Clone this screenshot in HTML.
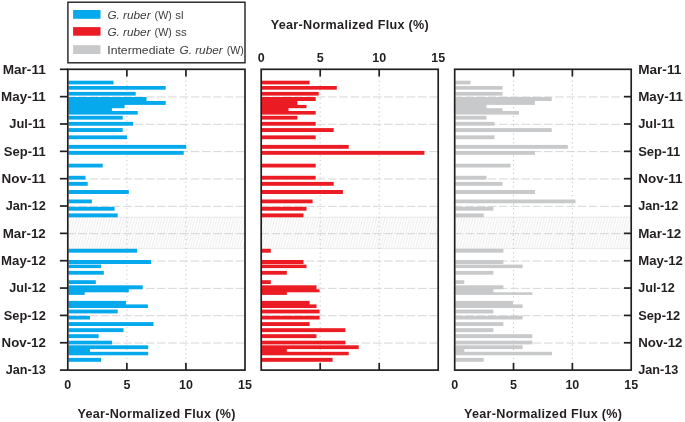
<!DOCTYPE html>
<html><head><meta charset="utf-8"><title>Year-Normalized Flux</title>
<style>html,body{margin:0;padding:0;background:#fff;}body{width:685px;height:422px;overflow:hidden;font-family:"Liberation Sans",sans-serif;}svg{display:block;}text{font-family:"Liberation Sans",sans-serif;}</style></head><body>
<svg width="685" height="422" viewBox="0 0 685 422">
<defs><pattern id="hatch" patternUnits="userSpaceOnUse" width="2.75" height="11.2" patternTransform="translate(0,217.2)"><path d="M-2.75 22.4 L2.75 0 M0 22.4 L5.5 0 M-5.5 22.4 L0 0" stroke="#d4d4d4" stroke-width="0.45" fill="none"/></pattern></defs>
<rect x="0" y="0" width="685" height="422" fill="#ffffff"/>
<rect x="68.65" y="217.2" width="175.50" height="31.20" fill="url(#hatch)"/>
<path d="M68.65 217.2 H244.15 M68.65 248.4 H244.15" stroke="#dcdcdc" stroke-width="0.6" fill="none"/>
<path d="M126.87 76.30 V363.10" stroke="#adadad" stroke-width="0.85" stroke-dasharray="1.0 3.4" fill="none"/>
<path d="M185.93 76.30 V363.10" stroke="#adadad" stroke-width="0.85" stroke-dasharray="1.0 3.4" fill="none"/>
<path d="M68.65 96.95 H244.15" stroke="#c8c8c8" stroke-width="0.75" stroke-dasharray="8.5 2.74" stroke-dashoffset="1.5" fill="none"/>
<path d="M68.65 124.29 H244.15" stroke="#c8c8c8" stroke-width="0.75" stroke-dasharray="8.5 2.74" stroke-dashoffset="1.5" fill="none"/>
<path d="M68.65 151.64 H244.15" stroke="#c8c8c8" stroke-width="0.75" stroke-dasharray="8.5 2.74" stroke-dashoffset="1.5" fill="none"/>
<path d="M68.65 178.98 H244.15" stroke="#c8c8c8" stroke-width="0.75" stroke-dasharray="8.5 2.74" stroke-dashoffset="1.5" fill="none"/>
<path d="M68.65 206.33 H244.15" stroke="#c8c8c8" stroke-width="0.75" stroke-dasharray="8.5 2.74" stroke-dashoffset="1.5" fill="none"/>
<path d="M68.65 233.67 H244.15" stroke="#c8c8c8" stroke-width="0.75" stroke-dasharray="8.5 2.74" stroke-dashoffset="1.5" fill="none"/>
<path d="M68.65 261.02 H244.15" stroke="#c8c8c8" stroke-width="0.75" stroke-dasharray="8.5 2.74" stroke-dashoffset="1.5" fill="none"/>
<path d="M68.65 288.36 H244.15" stroke="#c8c8c8" stroke-width="0.75" stroke-dasharray="8.5 2.74" stroke-dashoffset="1.5" fill="none"/>
<path d="M68.65 315.71 H244.15" stroke="#c8c8c8" stroke-width="0.75" stroke-dasharray="8.5 2.74" stroke-dashoffset="1.5" fill="none"/>
<path d="M68.65 343.05 H244.15" stroke="#c8c8c8" stroke-width="0.75" stroke-dasharray="8.5 2.74" stroke-dashoffset="1.5" fill="none"/>
<rect x="68.45" y="80.70" width="45.05" height="3.70" fill="#06aaec"/>
<rect x="68.45" y="86.00" width="97.25" height="3.70" fill="#06aaec"/>
<rect x="68.45" y="91.90" width="67.25" height="3.70" fill="#06aaec"/>
<rect x="68.45" y="97.00" width="78.05" height="5.00" fill="#06aaec"/>
<rect x="68.45" y="101.00" width="97.25" height="3.90" fill="#06aaec"/>
<rect x="68.45" y="103.90" width="56.15" height="4.30" fill="#06aaec"/>
<rect x="68.45" y="107.20" width="43.45" height="4.80" fill="#06aaec"/>
<rect x="68.45" y="111.00" width="69.25" height="3.60" fill="#06aaec"/>
<rect x="68.45" y="115.80" width="54.25" height="3.80" fill="#06aaec"/>
<rect x="68.45" y="121.90" width="64.75" height="3.80" fill="#06aaec"/>
<rect x="68.45" y="128.10" width="54.25" height="3.90" fill="#06aaec"/>
<rect x="68.45" y="135.40" width="58.45" height="3.80" fill="#06aaec"/>
<rect x="68.45" y="144.90" width="117.75" height="3.90" fill="#06aaec"/>
<rect x="68.45" y="150.90" width="115.25" height="3.90" fill="#06aaec"/>
<rect x="68.45" y="163.70" width="34.25" height="3.80" fill="#06aaec"/>
<rect x="68.45" y="175.80" width="17.05" height="3.80" fill="#06aaec"/>
<rect x="68.45" y="181.90" width="19.25" height="3.90" fill="#06aaec"/>
<rect x="68.45" y="190.00" width="60.35" height="4.00" fill="#06aaec"/>
<rect x="68.45" y="199.50" width="23.45" height="3.80" fill="#06aaec"/>
<rect x="68.45" y="206.80" width="46.15" height="3.90" fill="#06aaec"/>
<rect x="68.45" y="213.40" width="49.25" height="3.90" fill="#06aaec"/>
<rect x="68.45" y="248.80" width="68.65" height="3.90" fill="#06aaec"/>
<rect x="68.45" y="260.00" width="82.55" height="4.00" fill="#06aaec"/>
<rect x="68.45" y="264.60" width="32.55" height="3.50" fill="#06aaec"/>
<rect x="68.45" y="270.90" width="35.35" height="3.80" fill="#06aaec"/>
<rect x="68.45" y="280.20" width="27.35" height="3.80" fill="#06aaec"/>
<rect x="68.45" y="285.30" width="74.25" height="4.00" fill="#06aaec"/>
<rect x="68.45" y="288.30" width="60.35" height="4.00" fill="#06aaec"/>
<rect x="68.45" y="291.30" width="16.25" height="3.60" fill="#06aaec"/>
<rect x="68.45" y="300.90" width="57.55" height="4.50" fill="#06aaec"/>
<rect x="68.45" y="304.40" width="79.45" height="3.60" fill="#06aaec"/>
<rect x="68.45" y="309.60" width="49.25" height="3.80" fill="#06aaec"/>
<rect x="68.45" y="315.80" width="21.55" height="3.70" fill="#06aaec"/>
<rect x="68.45" y="322.10" width="85.05" height="3.90" fill="#06aaec"/>
<rect x="68.45" y="328.20" width="55.05" height="3.90" fill="#06aaec"/>
<rect x="68.45" y="334.20" width="30.15" height="3.90" fill="#06aaec"/>
<rect x="68.45" y="340.70" width="43.65" height="3.70" fill="#06aaec"/>
<rect x="68.45" y="345.30" width="79.75" height="3.80" fill="#06aaec"/>
<rect x="68.45" y="348.10" width="21.55" height="4.70" fill="#06aaec"/>
<rect x="68.45" y="351.80" width="79.75" height="3.50" fill="#06aaec"/>
<rect x="68.45" y="357.90" width="32.55" height="3.90" fill="#06aaec"/>
<rect x="67.80" y="69.30" width="177.20" height="300.80" fill="none" stroke="#231f20" stroke-width="1.7"/>
<path d="M126.87 69.30 v7.2 M126.87 370.10 v-7.2" stroke="#231f20" stroke-width="1.7" fill="none"/>
<path d="M185.93 69.30 v7.2 M185.93 370.10 v-7.2" stroke="#231f20" stroke-width="1.7" fill="none"/>
<rect x="262.05" y="217.2" width="175.30" height="31.20" fill="url(#hatch)"/>
<path d="M262.05 217.2 H437.35 M262.05 248.4 H437.35" stroke="#dcdcdc" stroke-width="0.6" fill="none"/>
<path d="M320.20 76.30 V363.10" stroke="#adadad" stroke-width="0.85" stroke-dasharray="1.0 3.4" fill="none"/>
<path d="M379.20 76.30 V363.10" stroke="#adadad" stroke-width="0.85" stroke-dasharray="1.0 3.4" fill="none"/>
<path d="M262.05 96.95 H437.35" stroke="#c8c8c8" stroke-width="0.75" stroke-dasharray="8.5 2.74" stroke-dashoffset="1.5" fill="none"/>
<path d="M262.05 124.29 H437.35" stroke="#c8c8c8" stroke-width="0.75" stroke-dasharray="8.5 2.74" stroke-dashoffset="1.5" fill="none"/>
<path d="M262.05 151.64 H437.35" stroke="#c8c8c8" stroke-width="0.75" stroke-dasharray="8.5 2.74" stroke-dashoffset="1.5" fill="none"/>
<path d="M262.05 178.98 H437.35" stroke="#c8c8c8" stroke-width="0.75" stroke-dasharray="8.5 2.74" stroke-dashoffset="1.5" fill="none"/>
<path d="M262.05 206.33 H437.35" stroke="#c8c8c8" stroke-width="0.75" stroke-dasharray="8.5 2.74" stroke-dashoffset="1.5" fill="none"/>
<path d="M262.05 233.67 H437.35" stroke="#c8c8c8" stroke-width="0.75" stroke-dasharray="8.5 2.74" stroke-dashoffset="1.5" fill="none"/>
<path d="M262.05 261.02 H437.35" stroke="#c8c8c8" stroke-width="0.75" stroke-dasharray="8.5 2.74" stroke-dashoffset="1.5" fill="none"/>
<path d="M262.05 288.36 H437.35" stroke="#c8c8c8" stroke-width="0.75" stroke-dasharray="8.5 2.74" stroke-dashoffset="1.5" fill="none"/>
<path d="M262.05 315.71 H437.35" stroke="#c8c8c8" stroke-width="0.75" stroke-dasharray="8.5 2.74" stroke-dashoffset="1.5" fill="none"/>
<path d="M262.05 343.05 H437.35" stroke="#c8c8c8" stroke-width="0.75" stroke-dasharray="8.5 2.74" stroke-dashoffset="1.5" fill="none"/>
<rect x="261.85" y="80.70" width="47.75" height="3.70" fill="#ec1c24"/>
<rect x="261.85" y="86.00" width="74.95" height="3.70" fill="#ec1c24"/>
<rect x="261.85" y="91.90" width="56.85" height="3.70" fill="#ec1c24"/>
<rect x="261.85" y="97.00" width="53.85" height="4.00" fill="#ec1c24"/>
<rect x="261.85" y="100.00" width="35.55" height="5.90" fill="#ec1c24"/>
<rect x="261.85" y="104.90" width="44.65" height="3.30" fill="#ec1c24"/>
<rect x="261.85" y="107.20" width="26.65" height="4.80" fill="#ec1c24"/>
<rect x="261.85" y="111.00" width="53.85" height="3.60" fill="#ec1c24"/>
<rect x="261.85" y="115.80" width="35.55" height="3.80" fill="#ec1c24"/>
<rect x="261.85" y="121.90" width="53.85" height="3.80" fill="#ec1c24"/>
<rect x="261.85" y="128.10" width="71.85" height="3.90" fill="#ec1c24"/>
<rect x="261.85" y="135.40" width="53.85" height="3.80" fill="#ec1c24"/>
<rect x="261.85" y="144.90" width="86.85" height="3.90" fill="#ec1c24"/>
<rect x="261.85" y="150.90" width="162.55" height="3.90" fill="#ec1c24"/>
<rect x="261.85" y="163.70" width="53.85" height="3.80" fill="#ec1c24"/>
<rect x="261.85" y="175.80" width="53.85" height="3.80" fill="#ec1c24"/>
<rect x="261.85" y="181.90" width="71.85" height="3.90" fill="#ec1c24"/>
<rect x="261.85" y="190.00" width="81.05" height="4.00" fill="#ec1c24"/>
<rect x="261.85" y="199.50" width="50.75" height="3.80" fill="#ec1c24"/>
<rect x="261.85" y="206.80" width="44.65" height="3.90" fill="#ec1c24"/>
<rect x="261.85" y="213.40" width="41.65" height="3.90" fill="#ec1c24"/>
<rect x="261.85" y="248.80" width="8.95" height="3.90" fill="#ec1c24"/>
<rect x="261.85" y="260.00" width="41.65" height="4.00" fill="#ec1c24"/>
<rect x="261.85" y="264.60" width="44.65" height="3.50" fill="#ec1c24"/>
<rect x="261.85" y="270.90" width="24.95" height="3.80" fill="#ec1c24"/>
<rect x="261.85" y="280.20" width="8.95" height="3.80" fill="#ec1c24"/>
<rect x="261.85" y="285.30" width="54.65" height="5.00" fill="#ec1c24"/>
<rect x="261.85" y="289.30" width="57.75" height="3.00" fill="#ec1c24"/>
<rect x="261.85" y="291.30" width="24.95" height="3.60" fill="#ec1c24"/>
<rect x="261.85" y="300.90" width="47.75" height="4.50" fill="#ec1c24"/>
<rect x="261.85" y="304.40" width="54.65" height="3.60" fill="#ec1c24"/>
<rect x="261.85" y="309.60" width="57.75" height="3.80" fill="#ec1c24"/>
<rect x="261.85" y="315.80" width="57.75" height="3.70" fill="#ec1c24"/>
<rect x="261.85" y="322.10" width="47.75" height="3.90" fill="#ec1c24"/>
<rect x="261.85" y="328.20" width="83.55" height="3.90" fill="#ec1c24"/>
<rect x="261.85" y="334.20" width="54.65" height="3.90" fill="#ec1c24"/>
<rect x="261.85" y="340.70" width="83.55" height="3.70" fill="#ec1c24"/>
<rect x="261.85" y="345.30" width="96.85" height="3.80" fill="#ec1c24"/>
<rect x="261.85" y="348.10" width="24.95" height="4.70" fill="#ec1c24"/>
<rect x="261.85" y="351.80" width="86.85" height="3.50" fill="#ec1c24"/>
<rect x="261.85" y="357.90" width="70.75" height="3.90" fill="#ec1c24"/>
<rect x="261.20" y="69.30" width="177.00" height="300.80" fill="none" stroke="#231f20" stroke-width="1.7"/>
<path d="M320.20 69.30 v7.2 M320.20 370.10 v-7.2" stroke="#231f20" stroke-width="1.7" fill="none"/>
<path d="M379.20 69.30 v7.2 M379.20 370.10 v-7.2" stroke="#231f20" stroke-width="1.7" fill="none"/>
<rect x="455.55" y="217.2" width="174.80" height="31.20" fill="url(#hatch)"/>
<path d="M455.55 217.2 H630.35 M455.55 248.4 H630.35" stroke="#dcdcdc" stroke-width="0.6" fill="none"/>
<path d="M513.53 76.30 V363.10" stroke="#adadad" stroke-width="0.85" stroke-dasharray="1.0 3.4" fill="none"/>
<path d="M572.37 76.30 V363.10" stroke="#adadad" stroke-width="0.85" stroke-dasharray="1.0 3.4" fill="none"/>
<path d="M455.55 96.95 H630.35" stroke="#c8c8c8" stroke-width="0.75" stroke-dasharray="8.5 2.74" stroke-dashoffset="1.5" fill="none"/>
<path d="M455.55 124.29 H630.35" stroke="#c8c8c8" stroke-width="0.75" stroke-dasharray="8.5 2.74" stroke-dashoffset="1.5" fill="none"/>
<path d="M455.55 151.64 H630.35" stroke="#c8c8c8" stroke-width="0.75" stroke-dasharray="8.5 2.74" stroke-dashoffset="1.5" fill="none"/>
<path d="M455.55 178.98 H630.35" stroke="#c8c8c8" stroke-width="0.75" stroke-dasharray="8.5 2.74" stroke-dashoffset="1.5" fill="none"/>
<path d="M455.55 206.33 H630.35" stroke="#c8c8c8" stroke-width="0.75" stroke-dasharray="8.5 2.74" stroke-dashoffset="1.5" fill="none"/>
<path d="M455.55 233.67 H630.35" stroke="#c8c8c8" stroke-width="0.75" stroke-dasharray="8.5 2.74" stroke-dashoffset="1.5" fill="none"/>
<path d="M455.55 261.02 H630.35" stroke="#c8c8c8" stroke-width="0.75" stroke-dasharray="8.5 2.74" stroke-dashoffset="1.5" fill="none"/>
<path d="M455.55 288.36 H630.35" stroke="#c8c8c8" stroke-width="0.75" stroke-dasharray="8.5 2.74" stroke-dashoffset="1.5" fill="none"/>
<path d="M455.55 315.71 H630.35" stroke="#c8c8c8" stroke-width="0.75" stroke-dasharray="8.5 2.74" stroke-dashoffset="1.5" fill="none"/>
<path d="M455.55 343.05 H630.35" stroke="#c8c8c8" stroke-width="0.75" stroke-dasharray="8.5 2.74" stroke-dashoffset="1.5" fill="none"/>
<rect x="455.35" y="80.70" width="15.05" height="3.70" fill="#c8c9cb"/>
<rect x="455.35" y="86.00" width="47.25" height="3.70" fill="#c8c9cb"/>
<rect x="455.35" y="91.90" width="47.25" height="3.70" fill="#c8c9cb"/>
<rect x="455.35" y="97.00" width="96.35" height="4.00" fill="#c8c9cb"/>
<rect x="455.35" y="100.00" width="79.45" height="4.90" fill="#c8c9cb"/>
<rect x="455.35" y="103.90" width="31.15" height="5.30" fill="#c8c9cb"/>
<rect x="455.35" y="108.20" width="47.25" height="3.80" fill="#c8c9cb"/>
<rect x="455.35" y="111.00" width="63.65" height="3.60" fill="#c8c9cb"/>
<rect x="455.35" y="115.80" width="31.15" height="3.80" fill="#c8c9cb"/>
<rect x="455.35" y="121.90" width="39.15" height="3.80" fill="#c8c9cb"/>
<rect x="455.35" y="128.10" width="96.35" height="3.90" fill="#c8c9cb"/>
<rect x="455.35" y="135.40" width="39.15" height="3.80" fill="#c8c9cb"/>
<rect x="455.35" y="144.90" width="112.45" height="3.90" fill="#c8c9cb"/>
<rect x="455.35" y="150.90" width="79.65" height="3.90" fill="#c8c9cb"/>
<rect x="455.35" y="163.70" width="55.25" height="3.80" fill="#c8c9cb"/>
<rect x="455.35" y="175.80" width="31.15" height="3.80" fill="#c8c9cb"/>
<rect x="455.35" y="181.90" width="47.25" height="3.90" fill="#c8c9cb"/>
<rect x="455.35" y="190.00" width="79.65" height="4.00" fill="#c8c9cb"/>
<rect x="455.35" y="199.50" width="120.15" height="3.80" fill="#c8c9cb"/>
<rect x="455.35" y="206.80" width="38.05" height="3.90" fill="#c8c9cb"/>
<rect x="455.35" y="213.40" width="28.35" height="3.90" fill="#c8c9cb"/>
<rect x="455.35" y="248.80" width="48.05" height="3.90" fill="#c8c9cb"/>
<rect x="455.35" y="260.00" width="48.05" height="4.00" fill="#c8c9cb"/>
<rect x="455.35" y="264.60" width="67.25" height="3.50" fill="#c8c9cb"/>
<rect x="455.35" y="270.90" width="38.05" height="3.80" fill="#c8c9cb"/>
<rect x="455.35" y="280.20" width="8.95" height="3.80" fill="#c8c9cb"/>
<rect x="455.35" y="285.30" width="48.05" height="4.00" fill="#c8c9cb"/>
<rect x="455.35" y="288.30" width="38.05" height="5.00" fill="#c8c9cb"/>
<rect x="455.35" y="292.30" width="76.95" height="2.60" fill="#c8c9cb"/>
<rect x="455.35" y="300.90" width="57.55" height="4.50" fill="#c8c9cb"/>
<rect x="455.35" y="304.40" width="67.25" height="3.60" fill="#c8c9cb"/>
<rect x="455.35" y="309.60" width="38.05" height="3.80" fill="#c8c9cb"/>
<rect x="455.35" y="315.80" width="67.25" height="3.70" fill="#c8c9cb"/>
<rect x="455.35" y="322.10" width="48.05" height="3.90" fill="#c8c9cb"/>
<rect x="455.35" y="328.20" width="38.05" height="3.90" fill="#c8c9cb"/>
<rect x="455.35" y="334.20" width="76.95" height="3.90" fill="#c8c9cb"/>
<rect x="455.35" y="340.70" width="76.95" height="3.70" fill="#c8c9cb"/>
<rect x="455.35" y="345.30" width="67.25" height="3.80" fill="#c8c9cb"/>
<rect x="455.35" y="348.10" width="8.95" height="4.70" fill="#c8c9cb"/>
<rect x="455.35" y="351.80" width="96.65" height="3.50" fill="#c8c9cb"/>
<rect x="455.35" y="357.90" width="28.35" height="3.90" fill="#c8c9cb"/>
<rect x="454.70" y="69.30" width="176.50" height="300.80" fill="none" stroke="#231f20" stroke-width="1.7"/>
<path d="M513.53 69.30 v7.2 M513.53 370.10 v-7.2" stroke="#231f20" stroke-width="1.7" fill="none"/>
<path d="M572.37 69.30 v7.2 M572.37 370.10 v-7.2" stroke="#231f20" stroke-width="1.7" fill="none"/>
<path d="M59.90 69.30 H67.80" stroke="#231f20" stroke-width="1.7" fill="none"/>
<path d="M59.90 96.65 H67.80" stroke="#231f20" stroke-width="1.7" fill="none"/>
<path d="M59.90 123.99 H67.80" stroke="#231f20" stroke-width="1.7" fill="none"/>
<path d="M59.90 151.34 H67.80" stroke="#231f20" stroke-width="1.7" fill="none"/>
<path d="M59.90 178.68 H67.80" stroke="#231f20" stroke-width="1.7" fill="none"/>
<path d="M59.90 206.03 H67.80" stroke="#231f20" stroke-width="1.7" fill="none"/>
<path d="M59.90 233.37 H67.80" stroke="#231f20" stroke-width="1.7" fill="none"/>
<path d="M59.90 260.72 H67.80" stroke="#231f20" stroke-width="1.7" fill="none"/>
<path d="M59.90 288.06 H67.80" stroke="#231f20" stroke-width="1.7" fill="none"/>
<path d="M59.90 315.41 H67.80" stroke="#231f20" stroke-width="1.7" fill="none"/>
<path d="M59.90 342.75 H67.80" stroke="#231f20" stroke-width="1.7" fill="none"/>
<path d="M59.90 370.10 H67.80" stroke="#231f20" stroke-width="1.7" fill="none"/>
<path d="M624.00 96.65 H631.20" stroke="#231f20" stroke-width="1.7" fill="none"/>
<path d="M624.00 123.99 H631.20" stroke="#231f20" stroke-width="1.7" fill="none"/>
<path d="M624.00 151.34 H631.20" stroke="#231f20" stroke-width="1.7" fill="none"/>
<path d="M624.00 178.68 H631.20" stroke="#231f20" stroke-width="1.7" fill="none"/>
<path d="M624.00 206.03 H631.20" stroke="#231f20" stroke-width="1.7" fill="none"/>
<path d="M624.00 233.37 H631.20" stroke="#231f20" stroke-width="1.7" fill="none"/>
<path d="M624.00 260.72 H631.20" stroke="#231f20" stroke-width="1.7" fill="none"/>
<path d="M624.00 288.06 H631.20" stroke="#231f20" stroke-width="1.7" fill="none"/>
<path d="M624.00 315.41 H631.20" stroke="#231f20" stroke-width="1.7" fill="none"/>
<path d="M624.00 342.75 H631.20" stroke="#231f20" stroke-width="1.7" fill="none"/>
<g id="txt" style="will-change:transform">
<text x="45.8" y="73.60" text-anchor="end" font-size="12.3" font-weight="bold" fill="#231f20" textLength="43.1" lengthAdjust="spacingAndGlyphs">Mar-11</text>
<text x="638.2" y="73.60" text-anchor="start" font-size="12.3" font-weight="bold" fill="#231f20" textLength="43.1" lengthAdjust="spacingAndGlyphs">Mar-11</text>
<text x="45.8" y="100.95" text-anchor="end" font-size="12.3" font-weight="bold" fill="#231f20" textLength="44.7" lengthAdjust="spacingAndGlyphs">May-11</text>
<text x="638.2" y="100.95" text-anchor="start" font-size="12.3" font-weight="bold" fill="#231f20" textLength="44.7" lengthAdjust="spacingAndGlyphs">May-11</text>
<text x="45.8" y="128.29" text-anchor="end" font-size="12.3" font-weight="bold" fill="#231f20" textLength="36.5" lengthAdjust="spacingAndGlyphs">Jul-11</text>
<text x="638.2" y="128.29" text-anchor="start" font-size="12.3" font-weight="bold" fill="#231f20" textLength="36.5" lengthAdjust="spacingAndGlyphs">Jul-11</text>
<text x="45.8" y="155.64" text-anchor="end" font-size="12.3" font-weight="bold" fill="#231f20" textLength="42.0" lengthAdjust="spacingAndGlyphs">Sep-11</text>
<text x="638.2" y="155.64" text-anchor="start" font-size="12.3" font-weight="bold" fill="#231f20" textLength="42.0" lengthAdjust="spacingAndGlyphs">Sep-11</text>
<text x="45.8" y="182.98" text-anchor="end" font-size="12.3" font-weight="bold" fill="#231f20" textLength="44.2" lengthAdjust="spacingAndGlyphs">Nov-11</text>
<text x="638.2" y="182.98" text-anchor="start" font-size="12.3" font-weight="bold" fill="#231f20" textLength="44.2" lengthAdjust="spacingAndGlyphs">Nov-11</text>
<text x="45.8" y="210.33" text-anchor="end" font-size="12.3" font-weight="bold" fill="#231f20" textLength="40.1" lengthAdjust="spacingAndGlyphs">Jan-12</text>
<text x="638.2" y="210.33" text-anchor="start" font-size="12.3" font-weight="bold" fill="#231f20" textLength="40.1" lengthAdjust="spacingAndGlyphs">Jan-12</text>
<text x="45.8" y="237.67" text-anchor="end" font-size="12.3" font-weight="bold" fill="#231f20" textLength="43.1" lengthAdjust="spacingAndGlyphs">Mar-12</text>
<text x="638.2" y="237.67" text-anchor="start" font-size="12.3" font-weight="bold" fill="#231f20" textLength="43.1" lengthAdjust="spacingAndGlyphs">Mar-12</text>
<text x="45.8" y="265.02" text-anchor="end" font-size="12.3" font-weight="bold" fill="#231f20" textLength="44.7" lengthAdjust="spacingAndGlyphs">May-12</text>
<text x="638.2" y="265.02" text-anchor="start" font-size="12.3" font-weight="bold" fill="#231f20" textLength="44.7" lengthAdjust="spacingAndGlyphs">May-12</text>
<text x="45.8" y="292.36" text-anchor="end" font-size="12.3" font-weight="bold" fill="#231f20" textLength="36.5" lengthAdjust="spacingAndGlyphs">Jul-12</text>
<text x="638.2" y="292.36" text-anchor="start" font-size="12.3" font-weight="bold" fill="#231f20" textLength="36.5" lengthAdjust="spacingAndGlyphs">Jul-12</text>
<text x="45.8" y="319.71" text-anchor="end" font-size="12.3" font-weight="bold" fill="#231f20" textLength="42.0" lengthAdjust="spacingAndGlyphs">Sep-12</text>
<text x="638.2" y="319.71" text-anchor="start" font-size="12.3" font-weight="bold" fill="#231f20" textLength="42.0" lengthAdjust="spacingAndGlyphs">Sep-12</text>
<text x="45.8" y="347.05" text-anchor="end" font-size="12.3" font-weight="bold" fill="#231f20" textLength="44.2" lengthAdjust="spacingAndGlyphs">Nov-12</text>
<text x="638.2" y="347.05" text-anchor="start" font-size="12.3" font-weight="bold" fill="#231f20" textLength="44.2" lengthAdjust="spacingAndGlyphs">Nov-12</text>
<text x="45.8" y="374.40" text-anchor="end" font-size="12.3" font-weight="bold" fill="#231f20" textLength="40.1" lengthAdjust="spacingAndGlyphs">Jan-13</text>
<text x="638.2" y="374.40" text-anchor="start" font-size="12.3" font-weight="bold" fill="#231f20" textLength="40.1" lengthAdjust="spacingAndGlyphs">Jan-13</text>
</g>
<text x="67.80" y="389.2" text-anchor="middle" font-size="12.5" font-weight="bold" fill="#231f20">0</text>
<text x="126.87" y="389.2" text-anchor="middle" font-size="12.5" font-weight="bold" fill="#231f20">5</text>
<text x="185.93" y="389.2" text-anchor="middle" font-size="12.5" font-weight="bold" fill="#231f20">10</text>
<text x="245.00" y="389.2" text-anchor="middle" font-size="12.5" font-weight="bold" fill="#231f20">15</text>
<text x="454.70" y="389.2" text-anchor="middle" font-size="12.5" font-weight="bold" fill="#231f20">0</text>
<text x="513.53" y="389.2" text-anchor="middle" font-size="12.5" font-weight="bold" fill="#231f20">5</text>
<text x="572.37" y="389.2" text-anchor="middle" font-size="12.5" font-weight="bold" fill="#231f20">10</text>
<text x="631.20" y="389.2" text-anchor="middle" font-size="12.5" font-weight="bold" fill="#231f20">15</text>
<text x="261.20" y="62.2" text-anchor="middle" font-size="12.5" font-weight="bold" fill="#231f20">0</text>
<text x="320.20" y="62.2" text-anchor="middle" font-size="12.5" font-weight="bold" fill="#231f20">5</text>
<text x="379.20" y="62.2" text-anchor="middle" font-size="12.5" font-weight="bold" fill="#231f20">10</text>
<text x="438.20" y="62.2" text-anchor="middle" font-size="12.5" font-weight="bold" fill="#231f20">15</text>
<text x="349.70" y="28.9" text-anchor="middle" font-size="12.6" font-weight="bold" fill="#231f20" textLength="158" lengthAdjust="spacing">Year-Normalized Flux (%)</text>
<text x="156.40" y="418.4" text-anchor="middle" font-size="12.6" font-weight="bold" fill="#231f20" textLength="158" lengthAdjust="spacing">Year-Normalized Flux (%)</text>
<text x="543.00" y="418.4" text-anchor="middle" font-size="12.6" font-weight="bold" fill="#231f20" textLength="158" lengthAdjust="spacing">Year-Normalized Flux (%)</text>
<rect x="67.9" y="2.2" width="177.1" height="60.6" fill="#ffffff" stroke="#231f20" stroke-width="1.4"/>
<rect x="73.1" y="10.0" width="27.4" height="8.80" fill="#06aaec"/>
<rect x="73.1" y="27.1" width="27.4" height="8.60" fill="#ec1c24"/>
<rect x="73.1" y="45.2" width="27.4" height="8.80" fill="#c8c9cb"/>
<text x="107.4" y="18.7" font-size="11.5" font-style="italic" fill="#3b3b3d" textLength="43.2" lengthAdjust="spacingAndGlyphs">G. ruber</text>
<text x="154.60" y="18.7" font-size="11.5" fill="#3b3b3d" textLength="17.1" lengthAdjust="spacingAndGlyphs">(W)</text>
<text x="175.20" y="18.7" font-size="11.5" fill="#3b3b3d">sl</text>
<text x="107.4" y="35.6" font-size="11.5" font-style="italic" fill="#3b3b3d" textLength="43.2" lengthAdjust="spacingAndGlyphs">G. ruber</text>
<text x="154.60" y="35.6" font-size="11.5" fill="#3b3b3d" textLength="17.1" lengthAdjust="spacingAndGlyphs">(W)</text>
<text x="175.20" y="35.6" font-size="11.5" fill="#3b3b3d">ss</text>
<text x="107.3" y="53.7" font-size="11.5" fill="#3b3b3d" textLength="67.8" lengthAdjust="spacingAndGlyphs">Intermediate</text>
<text x="179.5" y="53.7" font-size="11.5" font-style="italic" fill="#3b3b3d" textLength="43.2" lengthAdjust="spacingAndGlyphs">G. ruber</text>
<text x="226.70" y="53.7" font-size="11.5" fill="#3b3b3d" textLength="17.1" lengthAdjust="spacingAndGlyphs">(W)</text>
</svg></body></html>
